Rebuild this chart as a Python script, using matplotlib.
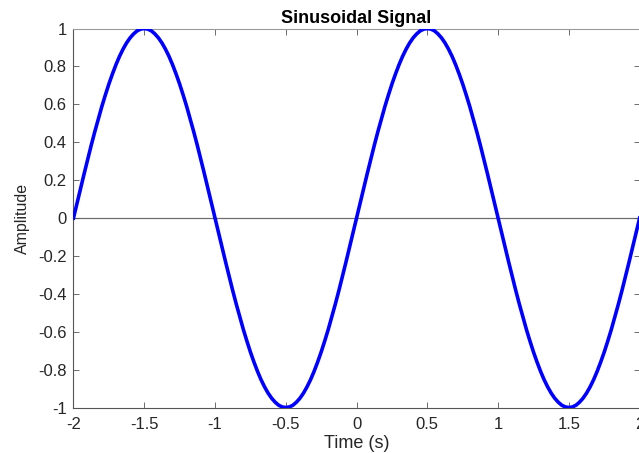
import matplotlib
matplotlib.use('Agg')
import matplotlib.pyplot as plt
import numpy as np

plt.rcParams['font.family'] = ['Liberation Sans', 'DejaVu Sans']
plt.rcParams['font.size'] = 12

# 采样时间 (s) 与幅值, 步长 0.025 s
time_s = np.round(np.arange(-2.0, 2.0001, 0.025), 3)
amplitude = [
    0.0, 0.078, 0.156, 0.233, 0.309, 0.383, 0.454, 0.522, 0.588, 0.649,
    0.707, 0.760, 0.809, 0.853, 0.891, 0.924, 0.951, 0.972, 0.988, 0.997,
    1.0, 0.997, 0.988, 0.972, 0.951, 0.924, 0.891, 0.853, 0.809, 0.760,
    0.707, 0.649, 0.588, 0.522, 0.454, 0.383, 0.309, 0.233, 0.156, 0.078,
    0.0, -0.078, -0.156, -0.233, -0.309, -0.383, -0.454, -0.522, -0.588, -0.649,
    -0.707, -0.760, -0.809, -0.853, -0.891, -0.924, -0.951, -0.972, -0.988, -0.997,
    -1.0, -0.997, -0.988, -0.972, -0.951, -0.924, -0.891, -0.853, -0.809, -0.760,
    -0.707, -0.649, -0.588, -0.522, -0.454, -0.383, -0.309, -0.233, -0.156, -0.078,
    0.0, 0.078, 0.156, 0.233, 0.309, 0.383, 0.454, 0.522, 0.588, 0.649,
    0.707, 0.760, 0.809, 0.853, 0.891, 0.924, 0.951, 0.972, 0.988, 0.997,
    1.0, 0.997, 0.988, 0.972, 0.951, 0.924, 0.891, 0.853, 0.809, 0.760,
    0.707, 0.649, 0.588, 0.522, 0.454, 0.383, 0.309, 0.233, 0.156, 0.078,
    0.0, -0.078, -0.156, -0.233, -0.309, -0.383, -0.454, -0.522, -0.588, -0.649,
    -0.707, -0.760, -0.809, -0.853, -0.891, -0.924, -0.951, -0.972, -0.988, -0.997,
    -1.0, -0.997, -0.988, -0.972, -0.951, -0.924, -0.891, -0.853, -0.809, -0.760,
    -0.707, -0.649, -0.588, -0.522, -0.454, -0.383, -0.309, -0.233, -0.156, -0.078,
    0.0,
]
xticks = [-2, -1.5, -1, -0.5, 0, 0.5, 1, 1.5, 2]
xtick_labels = ['-2', '-1.5', '-1', '-0.5', '0', '0.5', '1', '1.5', '2']
yticks = [-1, -0.8, -0.6, -0.4, -0.2, 0, 0.2, 0.4, 0.6, 0.8, 1]
ytick_labels = ['-1', '-0.8', '-0.6', '-0.4', '-0.2', '0', '0.2', '0.4', '0.6', '0.8', '1']

fig = plt.figure(figsize=(6.39, 4.53), dpi=100)
ax = fig.add_axes([0.115, 0.1004, 0.886, 0.8366])

ax.axhline(0, color='#6e6e6e', lw=0.9, zorder=1)
ax.plot(time_s, amplitude, color='#0000ff', lw=2.6, zorder=3,
        solid_joinstyle='round')

ax.set_xlim(-2, 2)
ax.set_ylim(-1, 1)
ax.set_xticks(xticks)
ax.set_xticklabels(xtick_labels)
ax.set_yticks(yticks)
ax.set_yticklabels(ytick_labels)
ax.tick_params(direction='in', length=4, width=0.6, color='#555555',
               labelcolor='#262626', labelsize=12, pad=5,
               right=True, top=True)
ax.tick_params(axis='x', pad=7)

for side in ['left', 'bottom']:
    ax.spines[side].set_color('#555555')
    ax.spines[side].set_linewidth(0.8)
for side in ['top', 'right']:
    ax.spines[side].set_color('#9a9a9a')
    ax.spines[side].set_linewidth(0.8)

ax.set_title('Sinusoidal Signal', fontsize=13, fontweight='bold', pad=4)
ax.set_xlabel('Time (s)', fontsize=13, color='#262626', labelpad=2)
ax.set_ylabel('Amplitude', fontsize=11.5, color='#262626', labelpad=6)

fig.savefig('out.png', dpi=100)
